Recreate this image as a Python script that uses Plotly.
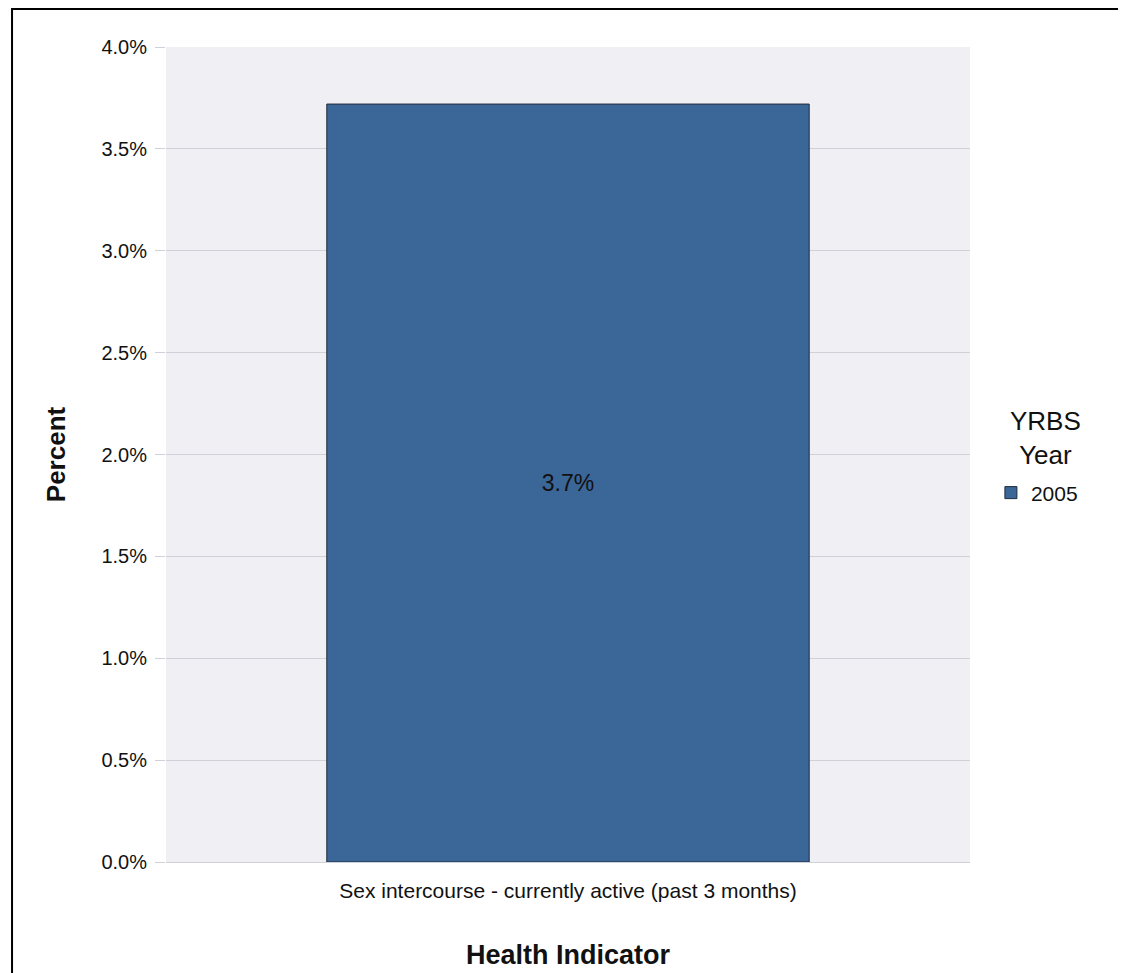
import plotly.graph_objects as go

categories = ["Sex intercourse - currently active (past 3 months)"]
values_2005 = [3.72]
bar_labels = ["3.7%"]
series_name = "2005"
legend_title = "YRBS<br>Year"
y_ticks = [0, 0.5, 1.0, 1.5, 2.0, 2.5, 3.0, 3.5, 4.0]
y_tick_labels = ["0.0%", "0.5%", "1.0%", "1.5%", "2.0%", "2.5%", "3.0%", "3.5%", "4.0%"]

fig = go.Figure()
fig.add_trace(go.Bar(
    x=categories, y=values_2005, name=series_name,
    text=bar_labels, textposition="inside", insidetextanchor="middle",
    textfont=dict(size=23, color="#111111"),
    marker=dict(color="#3b6698", line=dict(color="#1f2a3a", width=1)),
    width=0.6,
))

fig.update_layout(
    width=1118, height=965,
    margin=dict(l=158, r=156, t=39, b=111),
    paper_bgcolor="white", plot_bgcolor="#efeff4",
    font=dict(family="Liberation Sans, Arial, sans-serif", color="#111111"),
    showlegend=True,
    legend=dict(
        font=dict(size=21), x=1.026, y=0.4528, xanchor="left", yanchor="middle",
        bgcolor="rgba(0,0,0,0)",
    ),
    annotations=[dict(
        text=legend_title, xref="paper", yref="paper", x=1.0945, y=0.520,
        xanchor="center", yanchor="middle", align="center", showarrow=False,
        font=dict(size=26, color="#111111"),
    )],
    xaxis=dict(
        title=dict(text="<b>Health Indicator</b>", font=dict(size=27), standoff=43),
        tickfont=dict(size=21), showline=True, linecolor="#d0d0d8", linewidth=1,
        showgrid=False, ticks="", ticklabelstandoff=10, automargin=False,
    ),
    yaxis=dict(
        title=dict(text="<b>Percent</b>", font=dict(size=26), standoff=28),
        range=[0, 4.0], tickvals=y_ticks, ticktext=y_tick_labels,
        tickfont=dict(size=20), gridcolor="#d0d0d8", gridwidth=1,
        ticks="outside", ticklen=10, tickcolor="#d0d0d8", ticklabelstandoff=4,
        zeroline=False, automargin=False,
    ),
    shapes=[dict(type="rect", xref="paper", yref="paper",
                 x0=-0.1915, x1=1.1866, y0=-0.2, y1=1.0466,
                 line=dict(color="black", width=2), fillcolor="rgba(0,0,0,0)", layer="above")],
)

fig.write_html("out.html")
